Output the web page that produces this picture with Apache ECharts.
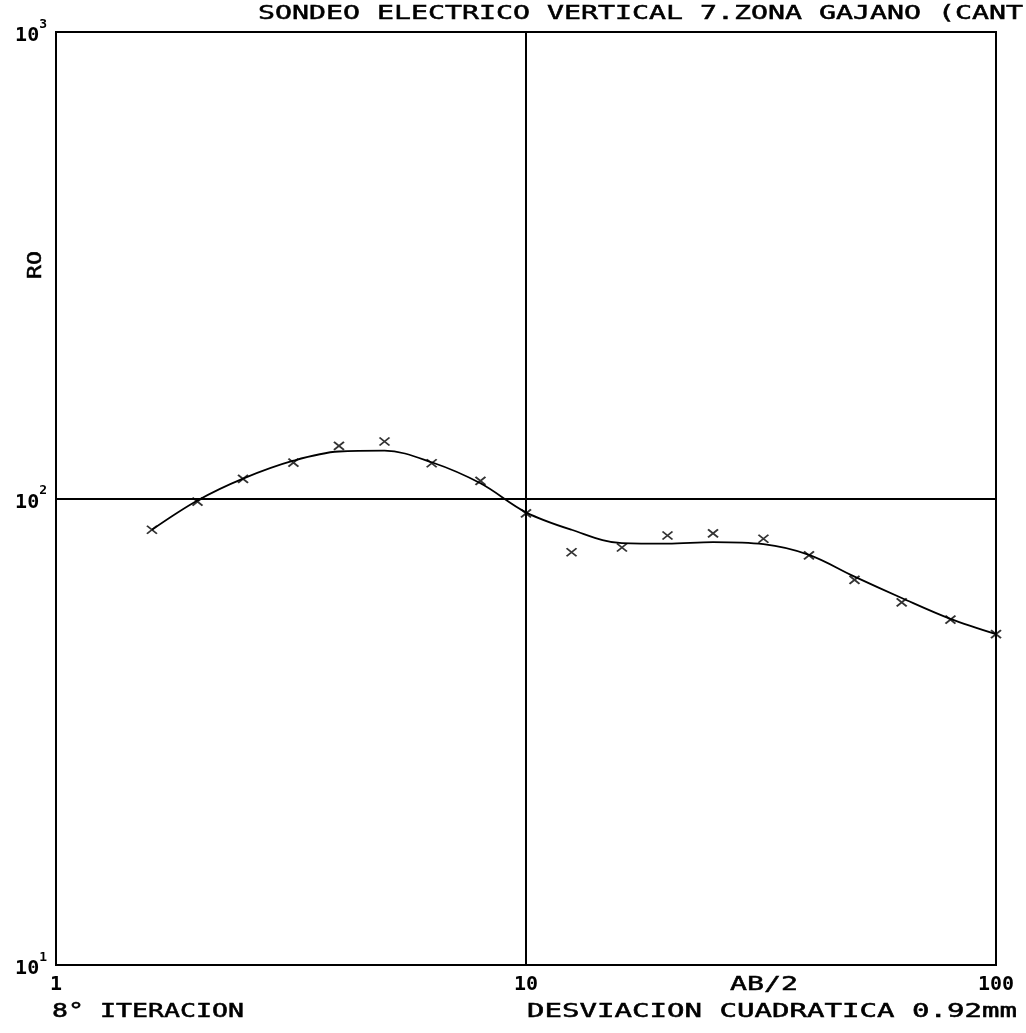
<!DOCTYPE html>
<html>
<head>
<meta charset="utf-8">
<title>SONDEO ELECTRICO VERTICAL 7</title>
<script src="https://cdn.jsdelivr.net/npm/echarts@6/dist/echarts.min.js"></script>
<style>
  html, body { margin: 0; padding: 0; background: #fff; }
  #chart { width: 1026px; height: 1033px; }
</style>
</head>
<body>
<div id="chart"></div>
<script>
// Half-spacing AB/2 (m) of the sounding
const abHalf = [1.6, 2, 2.5, 3.2, 4, 5, 6.3, 8, 10, 12.5, 16, 20, 25, 32, 40, 50, 63, 80, 100];
// Measured apparent resistivity (x marks)
const roMeasured = [85.7, 98.5, 110.2, 119.4, 129.7, 132.5, 119.0, 109.1, 92.9, 76.7, 78.5, 83.3, 84.2, 82.0, 75.5, 66.9, 59.9, 55.0, 51.2];
// Fitted model curve after the 8th iteration
const roModel = [85.7, 99.0, 110.3, 120.5, 126.1, 126.6, 119.6, 107.8, 93.4, 85.7, 80.2, 80.0, 80.6, 79.8, 75.7, 68.0, 61.2, 55.2, 51.2];

const titleText = 'SONDEO ELECTRICO VERTICAL 7.ZONA GAJANO (CANT';
const yName = 'RO';
const xName = 'AB/2';
const iterText = '8° ITERACION';
const devText = 'DESVIACION CUADRATICA 0.92mm';

const MONO = '"DejaVu Sans Mono", "Liberation Mono", monospace';
const FONT_SIZE = 19;
const PITCH = 17;               // plotter character pitch in px
const NATURAL = 0.602 * FONT_SIZE;

// Text in the wide plotter lettering: one string, stretched horizontally
function plotterText(str, x, y, opts) {
  opts = opts || {};
  const pitch = opts.pitch || PITCH;
  return {
    type: 'text',
    x: x,
    y: y,
    rotation: opts.rotation || 0,
    scaleX: pitch / NATURAL,
    silent: true,
    style: {
      text: str,
      font: FONT_SIZE + 'px ' + MONO,
      fill: '#000',
      stroke: '#000',
      lineWidth: 0.5,
      align: opts.align || 'left',
      verticalAlign: 'middle'
    }
  };
}

const chart = echarts.init(document.getElementById('chart'), null, { renderer: 'canvas' });

const option = {
  animation: false,
  backgroundColor: '#fff',
  grid: {
    left: 56, right: 30, top: 32, bottom: 68,
    show: true, borderColor: '#000', borderWidth: 2, backgroundColor: 'transparent'
  },
  xAxis: {
    type: 'log',
    logBase: 10,
    min: 1,
    max: 100,
    axisLine: { show: true, lineStyle: { color: '#000', width: 2 } },
    axisTick: { show: false },
    splitLine: { show: true, lineStyle: { color: '#000', width: 2 } },
    axisLabel: {
      color: '#000',
      fontFamily: MONO,
      fontSize: 20,
      fontWeight: 'bold',
      margin: 10,
      formatter: v => String(Math.round(v))
    }
  },
  yAxis: {
    type: 'log',
    logBase: 10,
    min: 10,
    max: 1000,
    axisLine: { show: true, lineStyle: { color: '#000', width: 2 } },
    axisTick: { show: false },
    splitLine: { show: true, lineStyle: { color: '#000', width: 2 } },
    axisLabel: {
      margin: 9,
      color: '#000',
      fontFamily: MONO,
      fontSize: 20,
      formatter: v => '{b|10}{e|' + Math.round(Math.log10(v)) + '}',
      rich: {
        b: { fontFamily: MONO, fontSize: 20, fontWeight: 'bold', color: '#000', lineHeight: 28, verticalAlign: 'bottom' },
        e: { fontFamily: MONO, fontSize: 13, fontWeight: 'bold', color: '#000', lineHeight: 13, verticalAlign: 'top' }
      }
    }
  },
  series: [
    {
      type: 'line',
      data: abHalf.map((x, i) => [x, roModel[i]]),
      smooth: 0.35,
      showSymbol: false,
      lineStyle: { color: '#000', width: 1.8 },
      z: 3
    },
    {
      type: 'scatter',
      data: abHalf.map((x, i) => [x, roMeasured[i]]),
      symbol: 'path://M0,0L10,8M10,0L0,8',
      symbolSize: [10, 8],
      itemStyle: { color: '#000', borderColor: '#000', borderWidth: 1.8 },
      z: 4
    }
  ],
  graphic: [
    plotterText(titleText, 258, 14.5),
    plotterText(yName, 36, 265, { rotation: Math.PI / 2, align: 'center', pitch: 14 }),
    plotterText(xName, 730, 985),
    plotterText(iterText, 52, 1012, { pitch: 16 }),
    plotterText(devText, 527, 1012, { pitch: 17.5 })
  ]
};

chart.setOption(option);
</script>
</body>
</html>
